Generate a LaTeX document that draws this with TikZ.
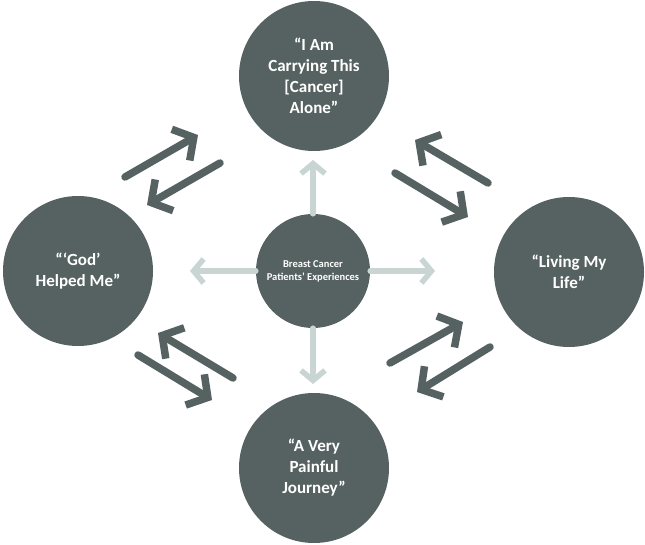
\documentclass[tikz,border=0pt]{standalone}
\usepackage{fontspec}
\setmainfont{Carlito}
\usetikzlibrary{arrows.meta, positioning}
\definecolor{slate}{RGB}{86,98,97}
\definecolor{mist}{RGB}{200,213,211}

\begin{document}
\begin{tikzpicture}[x=1pt, y=-1pt,
		theme/.style={circle, fill=slate, text=white, minimum size=150pt, inner sep=0pt, align=center, font=\bfseries\fontsize{17}{21}\selectfont},
		core/.style={theme, minimum size=114pt, font=\bfseries\fontsize{10.5}{13}\selectfont},
		spoke/.style={draw=mist, line width=5.5pt, line cap=round, -{Straight Barb[length=10pt, width=24pt]}},
		link/.style={draw=slate, line width=7.5pt, line cap=round, line join=round, -{Straight Barb[length=15pt, width=36pt]}}]
		\useasboundingbox (0,0) rectangle (645,545);
		
		\node[core] (hub) at (313,271) {Breast Cancer\\Patients’ Experiences};
		\node[theme] (alone) at (314,76) {“I Am\\Carrying This\\{[}Cancer{]}\\Alone”};
		\node[theme] (god) at (78,271) {“‘God’\\Helped Me”};
		\node[theme] (life) at (569,272) {“Living My\\Life”};
		\node[theme] (journey) at (314,468) {“A Very\\Painful\\Journey”};
		
		% ends of the light spokes
		\coordinate (s1) at (313,160);
		\coordinate (s2) at (190,271);
		\coordinate (s3) at (435,271);
		\coordinate (s4) at (313,384);
		
		\draw[spoke] (hub.north) -- (s1);
		\draw[spoke] (hub.west) -- (s2);
		\draw[spoke] (hub.east) -- (s3);
		\draw[spoke] (hub.south) -- (s4);
		
		% pairs of dark arrows
		\coordinate (a1) at (125,177); \coordinate (b1) at (198,135);
		\coordinate (a2) at (220,163); \coordinate (b2) at (147,205);
		\coordinate (a3) at (488,183); \coordinate (b3) at (415,140);
		\coordinate (a4) at (395,173); \coordinate (b4) at (468,217);
		\coordinate (a5) at (233,378); \coordinate (b5) at (158,333);
		\coordinate (a6) at (138,355); \coordinate (b6) at (212,400);
		\coordinate (a7) at (390,363); \coordinate (b7) at (463,322);
		\coordinate (a8) at (490,347); \coordinate (b8) at (417,392);
		
		\draw[link] (a1) -- (b1);
		\draw[link] (a2) -- (b2);
		\draw[link] (a3) -- (b3);
		\draw[link] (a4) -- (b4);
		\draw[link] (a5) -- (b5);
		\draw[link] (a6) -- (b6);
		\draw[link] (a7) -- (b7);
		\draw[link] (a8) -- (b8);
		
\end{tikzpicture}
\end{document}
